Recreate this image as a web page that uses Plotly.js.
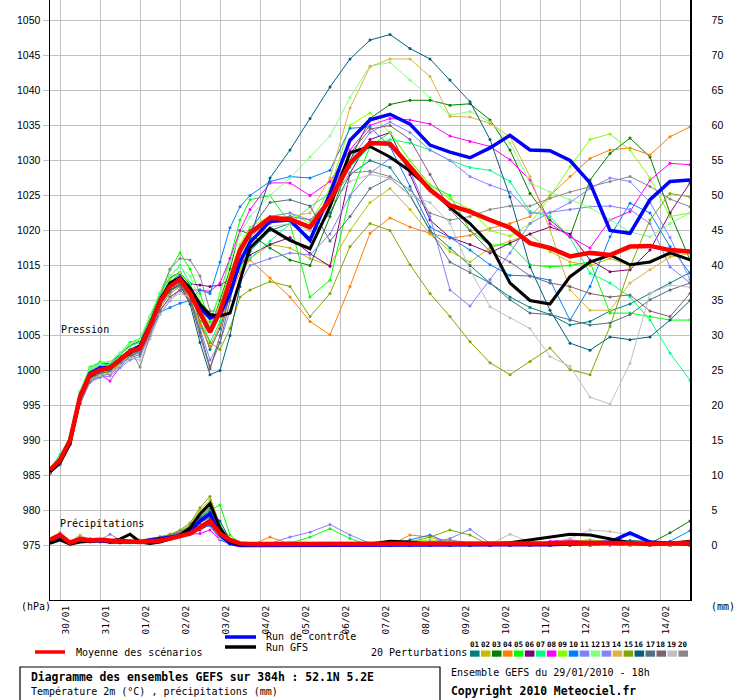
<!DOCTYPE html>
<html><head><meta charset="utf-8">
<script src="https://cdn.plot.ly/plotly-3.0.1.min.js"></script>
<style>html,body{margin:0;padding:0;background:#fff}#chart{width:740px;height:700px}</style>
</head><body><div id="chart"></div>
<script>
// forecast hours from 29/01/2010 18h
const hours = [0,6,12,18,24,30,36,42,48,54,60,66,72,78,84,90,96,102,108,114,120,132,144,156,168,180,192,204,216,228,240,252,264,276,288,300,312,324,336,348,360,372,384];
const dayTicks = [6,30,54,78,102,126,150,174,198,222,246,270,294,318,342,366];
const dayLabels = ['30/01','31/01','01/02','02/02','03/02','04/02','05/02','06/02','07/02','08/02','09/02','10/02','11/02','12/02','13/02','14/02'];
const memberNames = ['01','02','03','04','05','06','07','08','09','10','11','12','13','14','15','16','17','18','19','20'];
const memberColors = ['#008080','#c0c000','#008000','#ff8000','#00ff00','#800080','#00ff80','#ff00ff','#80ff00','#0080ff','#8080ff','#80ff80','#8484ff','#e0b040','#80a800','#006080','#507080','#806070','#c0c0c0','#888888'];
const pressureTicks = [975,980,985,990,995,1000,1005,1010,1015,1020,1025,1030,1035,1040,1045,1050];
const precipTicks = [0,5,10,15,20,25,30,35,40,45,50,55,60,65,70,75];

// pressure (hPa)
const pMean = [985.8,987.2,990,996.2,999.4,1000.1,1000.4,1001.5,1002.7,1003.2,1006.3,1009.8,1012,1013,1011,1008.2,1005.5,1008.4,1012.9,1017.2,1019.6,1021.8,1021.6,1020.5,1024.4,1029.6,1032.5,1032.4,1029.1,1025.8,1023.6,1022.7,1021.5,1020.4,1018.2,1017.5,1016.3,1016.8,1016.5,1017.7,1017.8,1017.2,1017];
const pGFS = [985.5,986.8,989.5,996,999.2,1000,1000.3,1001.5,1002.5,1003.5,1006.5,1010,1012.5,1013.2,1011.8,1009.5,1008,1007.8,1008.2,1013,1017.5,1020.3,1018.6,1017.4,1023.4,1031.1,1032,1030.5,1028.5,1026,1023.3,1021,1018,1012.5,1010,1009.5,1013.4,1015.5,1016.5,1015.1,1015.5,1016.8,1015.8];
const pCtrl = [985.6,987,990,996.3,999.6,1000.4,1000.5,1001.6,1002.8,1003.5,1006.5,1010,1012.3,1013.3,1011.5,1009,1007.5,1008,1011,1015.5,1018.3,1021.3,1021.5,1018.6,1025.3,1032.9,1035.8,1036.6,1035.2,1032.2,1031.2,1030.4,1031.8,1033.6,1031.5,1031.4,1030,1026.8,1020,1019.6,1024.4,1027,1027.2];
const p01 = [985.6,987.3,990.2,996.5,999.8,1000.3,1000.5,1001.8,1003,1003.6,1006.8,1010.3,1012.6,1013.8,1011.5,1007,1003,1006,1011,1015,1017,1020,1021,1019,1022.5,1028,1030,1029,1025,1020,1017.5,1015,1012.5,1010.5,1009,1008,1006.5,1007,1008.5,1009.5,1011,1012.5,1014];
const p02 = [985.4,986.9,989.8,995.8,999,999.8,1000,1001.2,1002.4,1003,1006,1009.5,1011.8,1013,1012,1009.5,1007,1009,1012,1014.5,1016,1018,1017.5,1016,1015,1020,1024,1026,1023,1019.5,1017,1015.5,1017.5,1018.5,1019.5,1017,1015.5,1015,1016,1015,1015.5,1016.5,1017];
const p03 = [985.7,987.5,990.3,996.8,1000.3,1001,1001,1002.3,1003.6,1004.2,1007.5,1011,1013.3,1014,1012.3,1009,1006,1010,1014.5,1020,1019.5,1017.5,1015.8,1015,1022,1030,1036,1038,1038.6,1038.6,1037.9,1038.1,1035.8,1031.5,1025.3,1021.5,1019.1,1027.2,1031,1033.2,1030.5,1022.5,1015.8];
const p04 = [985.5,987,989.9,995.9,999.2,1000,1000.2,1001.3,1002.4,1003,1006,1009.5,1011.5,1012.5,1010,1006.5,1003.4,1006.5,1010.5,1014,1015.8,1013.2,1010.5,1007,1005.1,1012,1019.6,1021.8,1020.5,1019.6,1018.9,1019.3,1020.3,1021,1022,1025,1027.7,1030.3,1031.5,1031.8,1030.8,1033.4,1034.8];
const p05 = [985.8,987.8,990.5,997,1000.5,1001.2,1001.2,1002.5,1004,1004.5,1007.8,1011,1014.4,1016.8,1014.5,1011,1007,1011,1016,1021.5,1024.4,1025,1021,1010.5,1012.9,1024.8,1032,1034,1030,1026.5,1025,1020,1017.9,1018,1015.1,1014.8,1015,1015.5,1008.2,1008.2,1007.7,1007.2,1007.2];
const p06 = [985.6,987.2,990,996,999.3,1000.2,1000.5,1001.6,1002.8,1003.4,1006.5,1009.5,1011.5,1012.2,1012.4,1012.2,1012,1012.2,1013,1015,1016.5,1018,1019,1016.7,1014.9,1028.2,1033,1034,1028,1021.5,1019,1018,1016.8,1018.2,1019.5,1020.5,1019.5,1015.8,1014.1,1014.4,1017.2,1022.5,1026.8];
const p07 = [985.9,988,990.4,996.6,1000,1000.8,1000.9,1002.2,1003.5,1004,1007.2,1010.8,1013.5,1015,1012.5,1008,1004,1007,1011,1014.8,1016,1018.5,1021,1023.4,1025.3,1029,1032,1033,1032.5,1031.5,1030,1029,1028.6,1027,1022.7,1022,1019,1013.9,1012.5,1010.5,1007.2,1002.5,998.6];
const p08 = [985.5,987,989.8,995.5,998.8,999.5,998.5,1000.5,1002,1002.8,1005.5,1008.5,1010.5,1011.5,1011.5,1011.5,1011.3,1012.5,1016,1020,1023,1026.8,1026.8,1025,1027,1031.5,1035,1036,1035.8,1035.2,1033.5,1032.7,1032,1030.1,1027.2,1021,1019.1,1017.5,1021.5,1022.7,1027.2,1029.6,1029.4];
const p09 = [985.7,987.4,990.1,996.4,999.6,1000.4,1000.6,1001.8,1003,1003.6,1006.8,1010.5,1013,1014,1012,1009,1006.5,1009.5,1014,1018,1020.5,1022,1022.5,1021,1026,1035,1036.8,1034,1030,1026.5,1024.5,1023,1020,1019.2,1021,1024.8,1029.1,1033,1033.8,1031.5,1027.5,1022,1022.5];
const p10 = [985.4,986.8,989.6,995.4,998.6,999.3,999.6,1000.8,1002,1002.6,1005.5,1008.3,1009,1009.6,1010,1011.5,1011,1015.5,1020.4,1023.4,1025,1027,1027.7,1027.5,1028.6,1034.6,1034.8,1032,1026.3,1020.5,1019,1017.2,1015.1,1013.6,1013.5,1012.9,1007.2,1012,1019.1,1023.9,1022.5,1017.7,1013.9];
const p11 = [985.3,986.5,989.4,995.2,998.3,999,999.2,1000.4,1001.5,1002,1005,1008,1010,1011.5,1010,1006,1001.5,1004,1008.5,1012.5,1015,1016,1016.8,1016.5,1019.5,1025,1028.2,1030.3,1028.5,1022,1011.5,1009.2,1013,1016.8,1021,1022.6,1023,1023.4,1023.5,1023,1021,1014.8,1012.5];
const p12 = [985.8,987.6,990.4,996.9,1000.3,1001,1001.2,1002.5,1003.8,1004.4,1007.7,1011.2,1013.5,1014.8,1013.5,1010,1007.5,1011,1015.5,1019.5,1022,1025,1027.5,1030.5,1033.5,1039,1043.5,1044,1041.5,1039,1036.5,1037,1035.5,1032.5,1026.8,1025.5,1024.4,1023.3,1021.5,1019.8,1019.1,1021,1022.5];
const p13 = [985.6,987,989.8,995.7,999,999.8,1000,1001.3,1002.5,1003,1006.2,1009.5,1011.5,1012.5,1011,1008.5,1006,1009,1013,1017,1020,1022,1022.5,1021.5,1024.5,1030,1034,1035.5,1034,1031.5,1030,1027.7,1026.5,1025.5,1022.5,1022.5,1024,1026,1027.5,1027,1024,1019,1013];
const p14 = [985.6,987.2,990,996.2,999.5,1000.2,1000.4,1001.6,1002.8,1003.3,1006.5,1010,1012.2,1013.3,1011.5,1008.5,1005.5,1008.5,1013,1016.5,1019,1021.5,1022,1022.5,1027.5,1037.5,1043.4,1044.5,1044.5,1042,1036.3,1036.2,1035.3,1033.4,1027.7,1020.1,1011.5,1008.6,1008.6,1012.5,1014.4,1016.2,1016.7];
const p15 = [985.4,986.8,989.6,995.6,998.8,999.5,999.8,1001,1002.2,1002.8,1005.8,1009,1011,1012,1010,1007,1004,1003,1006,1010.5,1011.5,1012.7,1012,1007.7,1011,1017.7,1021,1020,1015.1,1011,1007.7,1004.1,1001.1,999.4,1001.3,1003.2,1000.1,999.4,1006.3,1014.8,1021.5,1025.3,1024.8];
const p16 = [985.5,987,990,996,999.3,1000.1,1000.3,1001.5,1002.7,1003.2,1006.3,1009.6,1011.5,1012.3,1009.5,1004,999.4,1000,1005,1012,1019,1027.5,1031.5,1036,1040.5,1044.5,1047.2,1048,1046,1044.5,1041.5,1038.4,1033,1024.8,1014.8,1008.6,1003.9,1002.9,1004.8,1004.4,1004.8,1007.2,1010];
const p17 = [985.4,986.9,989.7,995.7,998.9,999.6,999.9,1001.2,1002.3,1002.9,1006,1009.3,1011.3,1012.2,1010.5,1005.5,1000.5,1004,1010,1016.5,1020,1024,1024.4,1023.5,1018.5,1022,1026,1027.5,1025,1020,1015.5,1014,1012.5,1010.1,1008.2,1008,1007.2,1006.5,1006.8,1008,1010.1,1011.5,1012.5];
const p18 = [985.3,986.6,989.5,995.3,998.5,999.2,999.5,1000.7,1001.8,1002.3,1005.3,1008.6,1010.5,1011.5,1010,1005,1000.2,1005,1011,1015.5,1018,1021.5,1022,1020,1025,1031,1034.5,1035,1033,1028,1023,1020,1017,1015.5,1013.5,1012.5,1012,1011,1010.5,1010.8,1008.5,1007.7,1011];
const p19 = [985.5,986.8,989.6,995.5,998.7,999.3,999.6,1000.7,1001.8,1001.5,1004.5,1008,1010.2,1011,1010.5,1008.5,1006.5,1009,1013,1016.5,1018.5,1020.5,1021,1020,1023.5,1027,1028,1027.5,1025,1024,1021,1014.4,1009.1,1007.5,1006,1002,1000.6,996.2,995.2,1001,1011,1012.2,1011.9];
const p20 = [985.6,987.1,990,996.1,999.4,1000.2,1000.4,1001.7,1003,1000.5,1005,1010.5,1014.5,1016,1015.8,1013.5,1008.5,1008.5,1012.5,1016.5,1019.5,1021,1022,1021.5,1024,1028.2,1028.5,1027.7,1025.8,1022.5,1021.5,1022,1023,1023.5,1023.5,1024.6,1025.5,1026.3,1027,1027.7,1026.3,1024.5,1023.4];

// precipitation (mm)
const rMean = [0.8,1.5,0.4,0.9,0.7,0.8,0.7,0.6,0.6,0.5,0.6,0.7,1.0,1.3,1.7,2.6,3.5,1.7,0.8,0.3,0.2,0.2,0.2,0.3,0.3,0.2,0.2,0.2,0.2,0.3,0.3,0.3,0.2,0.2,0.3,0.3,0.4,0.4,0.3,0.3,0.2,0.3,0.4];
const rGFS = [0.3,0.8,0.2,0.5,0.6,0.7,0.6,0.9,1.6,0.5,0.3,0.5,0.9,1.5,2.5,4.5,6.0,2.5,0.5,0.1,0.1,0.2,0.3,0.2,0.1,0.2,0.2,0.6,0.5,0.2,0.2,0.2,0.2,0.4,0.8,1.2,1.6,1.5,1.0,0.4,0.2,0.3,0.6];
const rCtrl = [0.6,1.2,0.4,0.8,0.6,0.7,0.5,0.5,0.4,0.5,0.8,1.0,1.2,1.4,2.0,3.5,4.5,1.5,0.3,0,0,0,0,0,0,0,0,0.1,0,0,0,0,0,0,0,0.1,0.2,0.4,0.5,1.8,0.5,0.3,0.2];
const r01 = [0.5,1.0,0.3,0.7,0.6,0.8,0.6,0.5,0.5,0.6,0.8,1.1,1.4,1.8,2.5,3.2,4.0,1.2,0.2,0.1,0,0,0.1,0,0.2,0,0,0.1,0,0.2,0,0,0,0.1,0.2,0.5,0.6,0.4,0.2,0.3,0.1,0,0.3];
const r02 = [0.7,1.4,0.5,1.0,0.8,0.6,0.5,0.4,0.6,0.7,0.9,1.2,1.5,2.0,3.0,5.0,6.5,2.5,0.4,0.1,0,0.1,0,0.2,0.1,0,0.3,0,0.2,0.5,0.3,0.1,0,0,0.2,0.4,0.5,0.8,0.5,0.3,0.2,0.1,0.2];
const r03 = [0.6,1.3,0.4,0.9,0.7,0.7,0.5,0.6,0.5,0.6,0.8,1.0,1.3,1.9,2.6,4.2,5.5,2.0,0.3,0,0,0,0,0.1,0,0,0,0,0,0,0.1,0,0,0,0.3,0.2,0.1,0,0.2,0,0.3,1.8,3.5];
const r04 = [0.8,1.2,0.5,1.1,0.9,0.8,0.7,0.6,0.7,0.8,0.7,0.9,1.2,1.6,2.3,3.5,4.5,1.8,0.4,0.1,0,1.2,0.2,0,0.1,0,0,0,1.5,1.2,0.3,0.1,0,0,0.1,0,0.2,0.1,0.2,0,0.1,0,0.1];
const r05 = [0.5,1.1,0.3,0.7,0.6,0.6,0.5,0.5,0.4,0.5,0.7,1.0,1.4,2.0,2.8,4.0,5.0,5.8,1.5,0.3,0.1,0,0.3,1.2,2.4,1.0,0,0,0,0.1,0,0,0,0,0,0.2,0.1,0,0.3,0,0.2,0.3,0.1];
const r06 = [0.6,1.2,0.4,0.8,0.7,0.7,0.6,0.5,0.5,0.6,0.7,1.0,1.3,1.6,1.8,2.2,3.0,1.0,0.2,0,0,0.1,0,0,0,0,0.1,0.3,0.2,0.1,0.3,0,0,0,0.2,0.4,0.6,0.4,0.2,0,0.1,0,0.1];
const r07 = [0.7,1.5,0.4,0.9,0.7,0.7,0.6,0.5,0.6,0.6,0.8,1.1,1.4,1.8,2.4,3.6,4.5,3.0,0.6,0.1,0,0,0,0,0,0,0,0,0,0,0,0,0,0,0,0,0,0,0.2,0.3,0.3,0.3,0.4];
const r08 = [0.5,1.3,0.3,0.8,0.6,0.6,0.5,0.4,0.5,0.6,0.9,1.2,1.3,1.5,1.6,1.7,2.2,0.8,0.2,0,0,0,0,0,0,0,0.2,0.1,0.3,0.2,0,0,0,0,0,0.6,0.8,0.5,0.3,0.2,0,0,0.1];
const r09 = [0.6,1.6,0.4,0.9,0.7,0.7,0.6,0.5,0.6,0.6,0.8,1.0,1.5,2.1,2.8,4.5,5.8,2.2,0.3,0,0,0,0,0,0,0.2,0,0,0.5,0.8,0.3,0,0,0,0,0.2,0.5,0.8,0.5,0.1,0,0,0];
const r10 = [0.4,0.9,0.2,0.6,0.5,0.5,0.4,0.4,0.4,0.5,0.7,1.1,1.6,1.9,2.2,2.6,2.8,0.9,0.2,0,0,0,0,0,0,0,0,0,0.8,1.5,0.3,0,0,0,0,0,0.1,0.2,0.5,0.3,0.1,0.6,2.1];
const r11 = [0.6,1.1,0.4,0.8,0.7,0.8,1.6,0.8,0.5,0.6,0.8,1.0,1.3,1.7,2.4,3.6,5.0,1.5,0.3,0,0,0.3,1.2,1.9,3.0,1.5,0.3,0,0.2,0.4,1.0,2.3,0.3,0,0,0.1,0.2,0.1,0,0,0,0.2,0.4];
const r12 = [0.7,1.4,0.5,1.0,0.8,0.7,0.6,0.5,0.6,0.7,0.9,1.3,1.5,1.9,2.6,4.3,5.5,2.0,0.4,0,0,0,0,0,0,0,0,0,0,0,0,0,0,0,0,0,0.2,0.5,0.3,0,0.1,0.4,0.3];
const r13 = [0.6,1.2,0.4,0.8,0.7,0.7,0.6,0.5,0.5,0.6,0.8,1.1,1.4,1.8,2.5,3.9,4.8,1.6,0.3,0,0,0,0,0,0,0,0.1,0,0,0,0,0,0,0,0.1,0.2,0.3,0.6,0.5,0.4,0.1,0,0];
const r14 = [0.8,1.3,0.5,1.5,0.8,0.7,0.6,0.5,0.6,0.7,0.8,1.0,1.3,1.7,2.3,3.4,4.2,1.4,0.3,0,0,0,0.1,0,0,0,0,0,0.2,0.6,0.4,0.1,0,0,0,0,0,0.3,0.2,0.1,0,0,0];
const r15 = [0.6,1.2,0.4,0.8,0.7,0.7,0.6,0.5,0.5,0.6,0.8,1.2,1.6,2.2,3.2,5.4,7.0,2.8,0.5,0.1,0,0,0,0,0.2,0,0,0,0.5,1.2,2.2,1.5,0,0,0,0,0.2,0.5,0.3,0.1,0,0.2,0.3];
const r16 = [0.5,1.0,0.3,0.7,0.6,0.6,0.5,0.4,0.5,0.5,0.7,1.0,1.3,1.7,2.4,3.8,4.8,3.5,0.8,0.1,0,0,0,0,0,0,0,0,0,0,0,0,0,0,0,0,0,0.3,0.5,0.7,0.6,0.5,0.3];
const r17 = [0.6,1.3,0.4,0.9,0.7,0.7,0.6,0.5,0.5,0.6,0.8,1.0,1.4,1.9,2.6,4.0,5.2,1.8,0.3,0,0,0,0,0,0.1,0,0,0,0,0.3,0.5,0.2,0,0,0,0.1,0.3,0.5,0.6,0.4,0.2,0.1,0];
const r18 = [0.7,1.3,0.5,0.9,0.8,0.7,0.6,0.5,0.6,0.6,0.8,1.0,1.3,1.7,2.4,3.5,4.4,1.5,0.3,0,0,0,0,0,0,0,0,0,0,0.4,0.6,0.3,0,0,0,0,0,0,0.2,0.1,0,0,0];
const r19 = [0.8,1.6,0.6,1.1,0.9,0.8,0.7,0.6,0.6,0.7,0.9,1.1,1.3,1.5,1.8,2.4,3.2,1.0,0.2,0,0,0.1,0,0,0,0,0,0.1,0.3,0.5,0.6,0.4,0.2,1.6,0.5,0.3,1.0,2.2,2.0,1.5,0.5,0.2,0.1];
const r20 = [0.9,1.8,0.6,1.2,1.0,0.9,0.7,0.6,0.6,0.7,0.9,1.2,1.5,2.0,2.7,4.4,5.6,2.2,0.4,0,0,0.2,0,0.1,0,0,0.1,0,0.2,0.5,0.8,0.3,0.2,0.1,0,0.1,0.3,0.5,0.6,0.3,0.1,0,0.1];

const pMembers = [p01,p02,p03,p04,p05,p06,p07,p08,p09,p10,p11,p12,p13,p14,p15,p16,p17,p18,p19,p20];
const rMembers = [r01,r02,r03,r04,r05,r06,r07,r08,r09,r10,r11,r12,r13,r14,r15,r16,r17,r18,r19,r20];

const traces = [];
rMembers.forEach((s,i)=>traces.push({x:hours,y:s,yaxis:'y2',type:'scatter',mode:'lines+markers',
  line:{color:memberColors[i],width:1},marker:{color:memberColors[i],size:3},name:memberNames[i],hoverinfo:'skip'}));
pMembers.forEach((s,i)=>traces.push({x:hours,y:s,yaxis:'y',type:'scatter',mode:'lines+markers',
  line:{color:memberColors[i],width:1},marker:{color:memberColors[i],size:3},name:memberNames[i],hoverinfo:'skip'}));
[[rCtrl,'y2','#0000ff',3.5],[rGFS,'y2','#000000',3],[pCtrl,'y','#0000ff',3.5],[pGFS,'y','#000000',3],
 [rMean,'y2','#ff0000',4.5],[pMean,'y','#ff0000',4.5]].forEach(t=>traces.push({x:hours,y:t[0],yaxis:t[1],type:'scatter',mode:'lines',
  line:{color:t[2],width:t[3]},hoverinfo:'skip'}));

// pixel -> paper helpers for decorations (plot area x 50..690, y 0..600)
const PX = X => (X-50)/640;
const PY = Y => (600-Y)/600;
const mono = 'DejaVu Sans Mono, monospace';
const ann = (X,Y,text,opts={}) => Object.assign({xref:'paper',yref:'paper',x:PX(X),y:PY(Y),text:text,showarrow:false,
  xanchor:'left',yanchor:'middle',font:{family:mono,size:10,color:'#000'}},opts);

const annotations = [
  ann(59,329,'Pression'),
  ann(58,523,'Précipitations'),
  ann(19,606,'(hPa)'),
  ann(709,606,'(mm)'),
  ann(74,652,'Moyenne des scénarios'),
  ann(264,636,'Run de contrôle'),
  ann(264,647,'Run GFS'),
  ann(369,652,'20 Perturbations'),
  ann(29,677,'<b>Diagramme des ensembles GEFS sur 384h : 52.1N 5.2E</b>',{font:{family:mono,size:11.4,color:'#000'}}),
  ann(29,691,'Température 2m (°C) , précipitations (mm)'),
  ann(449,672,'Ensemble GEFS du 29/01/2010 - 18h'),
  ann(449,691,'<b>Copyright 2010 Meteociel.fr</b>',{font:{family:mono,size:11.4,color:'#000'}})
];
const shapes = [
  {type:'line',xref:'paper',yref:'paper',x0:PX(35),x1:PX(65),y0:PY(652),y1:PY(652),line:{color:'#ff0000',width:3.5}},
  {type:'line',xref:'paper',yref:'paper',x0:PX(225),x1:PX(256),y0:PY(637),y1:PY(637),line:{color:'#0000ff',width:3.5}},
  {type:'line',xref:'paper',yref:'paper',x0:PX(225),x1:PX(256),y0:PY(647),y1:PY(647),line:{color:'#000000',width:3.5}},
  {type:'rect',xref:'paper',yref:'paper',x0:PX(20),x1:PX(440),y0:PY(667),y1:PY(702),line:{color:'#000',width:1.2},fillcolor:'rgba(0,0,0,0)'}
];
memberColors.forEach((c,i)=>{
  const x0 = 470 + i*10.97;
  shapes.push({type:'rect',xref:'paper',yref:'paper',x0:PX(x0),x1:PX(x0+9.6),y0:PY(650.5),y1:PY(656.7),line:{width:0},fillcolor:c});
  annotations.push(ann(x0+4.8,644.5,'<b>'+memberNames[i]+'</b>',{xanchor:'center',font:{family:mono,size:7.5,color:'#000'}}));
});

const layout = {
  width:740,height:700,autosize:false,
  margin:{l:50,r:50,t:0,b:100,pad:0},
  paper_bgcolor:'#fff',plot_bgcolor:'#fff',showlegend:false,
  xaxis:{range:[0,384],tickvals:dayTicks,ticktext:dayLabels,tickangle:-90,showgrid:true,gridcolor:'#c0c0c0',gridwidth:1,
    zeroline:false,showline:true,linecolor:'#000',linewidth:1,ticks:'',ticklabelshift:6,ticklabelstandoff:1,
    tickfont:{family:mono,size:9.5,color:'#000'},fixedrange:true},
  yaxis:{range:[967.21,1052.93],tickvals:pressureTicks,showgrid:true,gridcolor:'#c0c0c0',gridwidth:1,zeroline:false,
    showline:true,linecolor:'#000',linewidth:1.5,ticks:'outside',ticklen:6,tickcolor:'#c0c0c0',
    tickfont:{family:'Liberation Sans, Arial, sans-serif',size:10.5,color:'#000'},fixedrange:true},
  yaxis2:{range:[-7.79,77.93],overlaying:'y',side:'right',tickvals:precipTicks,showgrid:false,zeroline:false,
    showline:true,linecolor:'#000',linewidth:1.5,ticks:'outside',ticklen:18,tickcolor:'rgba(0,0,0,0)',
    tickfont:{family:'Liberation Sans, Arial, sans-serif',size:10.5,color:'#000'},fixedrange:true},
  annotations:annotations,shapes:shapes
};
Plotly.newPlot('chart',traces,layout,{staticPlot:true,displayModeBar:false});
</script></body></html>
